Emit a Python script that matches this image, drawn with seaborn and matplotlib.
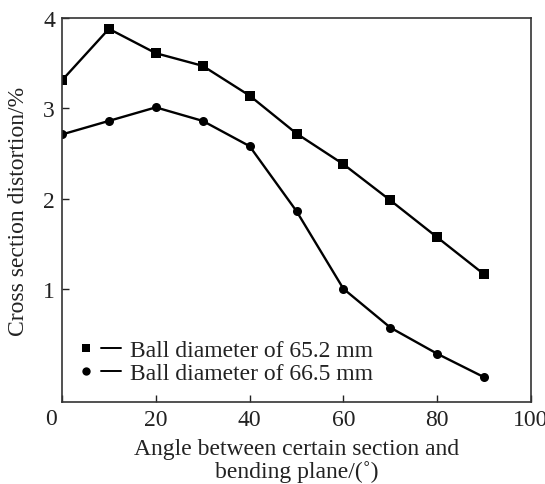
import matplotlib
matplotlib.use("Agg")
import matplotlib.pyplot as plt
import seaborn as sns
import pandas as pd
from matplotlib.lines import Line2D
from matplotlib.legend_handler import HandlerTuple

angles = [0, 10, 20, 30, 40, 50, 60, 70, 80, 90]
d652 = [3.31, 3.88, 3.61, 3.47, 3.14, 2.72, 2.38, 1.98, 1.57, 1.16]
d665 = [2.71, 2.86, 3.01, 2.86, 2.58, 1.86, 1.00, 0.57, 0.28, 0.02]
labels = ["Ball diameter of 65.2 mm", "Ball diameter of 66.5 mm"]
xticks = [0, 20, 40, 60, 80, 100]
yticks = [1, 2, 3, 4]

df = pd.DataFrame({
    "angle": angles * 2,
    "value": d652 + d665,
    "series": [labels[0]] * len(angles) + [labels[1]] * len(angles),
})

sns.set_theme(style="ticks")
plt.rcParams["font.family"] = ["Liberation Serif", "DejaVu Serif"]

FS = 17
fig = plt.figure(figsize=(5.45, 4.85), dpi=100)
ax = fig.add_axes([0.1138, 0.169, 0.8605, 0.7918])

marker_map = {labels[0]: "s", labels[1]: "o"}
sns.lineplot(data=df, x="angle", y="value", hue="series", style="series",
             markers=marker_map, dashes=False,
             palette={labels[0]: "black", labels[1]: "black"},
             linewidth=1.7, markersize=6.5, markeredgewidth=0,
             ax=ax, legend=False)

ax.set_xlim(0, 100)
ax.set_ylim(-0.255, 4)
ax.set_xticks(xticks)
ax.set_xticklabels([""] + [str(t) for t in xticks[1:]])
ax.set_yticks(yticks)
ax.set_yticklabels([str(t) for t in yticks])
ax.tick_params(direction="in", length=5, width=1, labelsize=FS, colors="#222222", pad=5)
for s in ax.spines.values():
    s.set_linewidth(1.2)
    s.set_color("#333333")
ax.text(-0.011, -0.015, "0", transform=ax.transAxes, ha="right", va="top",
        fontsize=FS, color="#222222")

ax.set_xlabel("Angle between certain section and\nbending plane/(˚)", fontsize=FS,
              linespacing=1.05, labelpad=6, color="#222222")
ax.set_ylabel("Cross section distortion/%", fontsize=FS, color="#222222")
ax.yaxis.set_label_coords(-0.07, 0.5)

handles = []
for lab in labels:
    m = Line2D([], [], color="black", marker=marker_map[lab], markersize=6,
               markeredgewidth=0, linestyle="none")
    l = Line2D([], [], color="black", linewidth=1.4)
    handles.append((m, l))
ax.legend(handles, labels, loc="lower left", bbox_to_anchor=(0.0, 0.01),
          frameon=False, fontsize=FS, handlelength=1.9, handletextpad=0.38,
          labelspacing=0.05, borderaxespad=0.2,
          handler_map={tuple: HandlerTuple(ndivide=2, pad=0.21)},
          labelcolor="#222222")

fig.savefig("out.png", dpi=100)
